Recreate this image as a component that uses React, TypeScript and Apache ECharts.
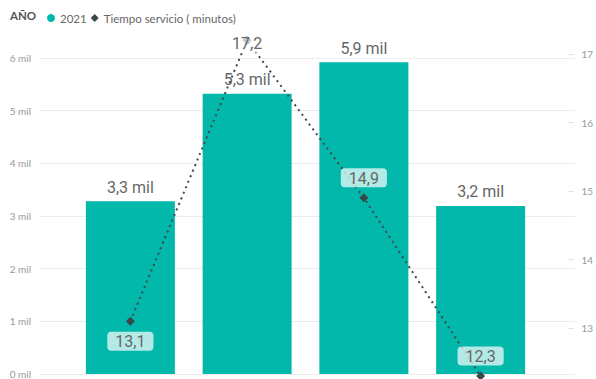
import React, { useEffect, useRef } from 'react';
import * as echarts from 'echarts';

const categories = ['1', '2', '3', '4'];
const barValues = [3280, 5320, 5920, 3190];
const lineValues = [13.1, 17.2, 14.9, 12.3];
const lineLabelPositions = ['bottom', 'inside', 'top', 'top'];
const legendNames = ['2021', 'Tiempo servicio ( minutos)'];
const legendTitle = 'AÑO';

const FONT = 'Lato, "Open Sans", sans-serif';
const LABEL_FONT = 'Roboto, sans-serif';
const fmtComma = (v: number, d: number) => v.toFixed(d).replace('.', ',');

export default function App() {
  const ref = useRef<HTMLDivElement>(null);
  useEffect(() => {
    document.body.style.margin = '0';
    if (!ref.current) return;
    const chart = echarts.init(ref.current, null, { renderer: 'svg' });
    chart.setOption({
      animation: false,
      backgroundColor: '#ffffff',
      textStyle: { fontFamily: FONT },
      graphic: [
        {
          type: 'text',
          left: 10,
          top: 9,
          style: { text: legendTitle, fill: '#555', font: `bold 11.5px ${FONT}` },
        },
      ],
      legend: {
        left: 42,
        top: 7,
        itemWidth: 8,
        itemHeight: 8,
        itemGap: 4,
        textStyle: { color: '#666', fontSize: 11.5, fontFamily: FONT },
        data: [
          { name: legendNames[0], icon: 'circle' },
          { name: legendNames[1], icon: 'diamond' },
        ],
      },
      grid: [
        { left: 40, right: 21, top: 58, bottom: 5 },
        { left: 72, right: 57, top: 40, bottom: 5 },
        { left: 72, right: 57, top: 54, bottom: 51 },
        { left: 40, right: 21, top: 54, bottom: 51 },
      ],
      xAxis: [
        { type: 'category', gridIndex: 0, data: categories, show: false },
        { type: 'category', gridIndex: 1, data: categories, show: false },
        { type: 'category', gridIndex: 2, data: categories, show: false },
        { type: 'category', gridIndex: 3, data: categories, show: false },
      ],
      yAxis: [
        {
          type: 'value',
          gridIndex: 0,
          min: 0,
          max: 6000,
          interval: 1000,
          axisLine: { show: false },
          axisTick: { show: false },
          axisLabel: {
            color: '#999',
            fontSize: 10,
            margin: 9,
            fontFamily: FONT,
            formatter: (v: number) => `${v / 1000} mil`,
          },
          splitLine: { lineStyle: { color: '#ececec', width: 1 } },
        },
        {
          type: 'value',
          gridIndex: 1,
          min: 0,
          max: 6342,
          show: false,
          splitLine: { show: false },
        },
        {
          type: 'value',
          gridIndex: 2,
          min: 13,
          max: 17,
          interval: 1,
          show: false,
          splitLine: { show: false },
        },
        {
          type: 'value',
          gridIndex: 3,
          position: 'right',
          min: 13,
          max: 17,
          interval: 1,
          axisLine: { show: false },
          axisTick: { show: true, inside: true, length: 5, lineStyle: { color: '#e0e0e0' } },
          axisLabel: {
            color: '#999',
            fontSize: 10,
            margin: 8,
            fontFamily: FONT,
          },
          splitLine: { show: false },
        },
      ],
      series: [
        {
          name: legendNames[0],
          type: 'bar',
          xAxisIndex: 1,
          yAxisIndex: 1,
          data: barValues,
          barWidth: 89,
          itemStyle: { color: '#01B8AA' },
          label: {
            show: true,
            position: 'top',
            distance: 6,
            color: '#666',
            fontSize: 16,
            fontFamily: LABEL_FONT,
            formatter: (p: any) => `${fmtComma(p.value / 1000, 1)} mil`,
          },
        },
        {
          name: legendNames[1],
          type: 'line',
          xAxisIndex: 2,
          yAxisIndex: 2,
          clip: false,
          data: lineValues.map((v, i) => ({
            value: v,
            label:
              lineLabelPositions[i] === 'inside'
                ? { position: 'inside', offset: [0, 3] }
                : { position: lineLabelPositions[i] },
          })),
          symbol: 'diamond',
          symbolSize: 9,
          itemStyle: { color: '#3b4848' },
          lineStyle: { color: '#404848', width: 2, type: [2, 4] },
          z: 5,
          label: {
            show: true,
            distance: 6,
            color: '#666',
            fontSize: 16,
            fontFamily: LABEL_FONT,
            backgroundColor: 'rgba(255,255,255,0.7)',
            borderRadius: 4,
            padding: [2, 8, 1, 8],
            formatter: (p: any) => fmtComma(p.value, 1),
          },
        },
      ],
    });
    return () => chart.dispose();
  }, []);
  return <div ref={ref} style={{ width: 596, height: 379 }} />;
}
